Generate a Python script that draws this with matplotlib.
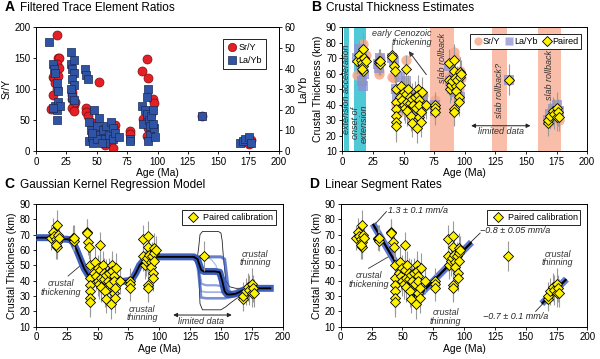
import numpy as np
import matplotlib
matplotlib.use('Agg')
import matplotlib.pyplot as plt
from matplotlib.lines import Line2D

plt.rcParams['font.family'] = ['Liberation Sans', 'DejaVu Sans']
plt.rcParams['font.size'] = 7
plt.rcParams['axes.linewidth'] = 0.7
plt.rcParams['xtick.major.size'] = 2.5
plt.rcParams['ytick.major.size'] = 2.5
plt.rcParams['xtick.major.width'] = 0.6
plt.rcParams['ytick.major.width'] = 0.6

# ---- panel A: trace element ratios ----
sry_age = [17, 18, 19, 17, 19, 16, 14, 15, 18, 16, 14, 17, 12,
           30, 30, 30, 31, 30, 31, 32, 41, 41, 43, 52,
           47, 48, 50, 55, 58, 60, 62, 63, 65, 64, 57,
           77, 77, 87, 91, 92, 88, 90, 92, 96, 97, 91, 95, 93,
           137, 170, 175, 177]
sry_val = [187, 150, 150, 140, 135, 125, 120, 118, 122, 110, 90, 100, 68,
           95, 90, 85, 75, 70, 65, 80, 70, 63, 57, 112,
           45, 40, 30, 35, 20, 25, 15, 5, 42, 35, 10,
           32, 28, 130, 148, 118, 52, 45, 38, 85, 78, 25, 60, 57,
           57, 15, 12, 18]
layb_age = [11, 14, 15, 16, 17, 18, 16, 17, 18, 20, 17, 14,
            29, 29, 30, 31, 30, 31, 29, 30, 31, 31,
            40, 41, 43,
            44, 45, 44, 46, 47, 48, 50, 52, 53, 55, 56, 57, 58, 60, 62,
            63, 63, 65, 68, 50, 46, 54,
            77, 77,
            87, 88, 91, 92, 90, 91, 93, 94, 94, 92, 95, 96, 97, 98, 96,
            137, 168, 170, 172, 175, 177]
layb_val = [53, 42, 40, 38, 33, 29, 22, 20, 24, 22, 15, 21,
            48, 42, 40, 38, 35, 32, 30, 26, 25, 44,
            40, 37, 35,
            14, 10, 5, 7, 4, 20, 12, 16, 8, 10, 6, 4, 12, 8, 14,
            11, 6, 9, 7, 6, 9, 4,
            6, 5,
            22, 13, 26, 30, 20, 18, 15, 12, 8, 5, 17, 20, 11, 7, 13,
            17, 4, 5, 6, 7, 4]

# ---- paired crustal thickness estimates (panels B-D) ----
pair_age = [12, 14, 15, 16, 17, 17, 17, 18, 19, 16,
            30, 30, 31, 31,
            41, 41, 42, 43,
            44, 44, 44, 44, 44, 44,
            47, 48, 49, 50, 50, 51, 52, 52, 53, 53, 54, 55, 55, 56, 57, 57,
            58, 59, 60, 61, 62, 62, 63, 63, 63, 64, 64, 65, 68,
            76, 76, 76,
            87, 87, 88, 89, 90, 91, 91, 91, 91, 92, 93, 93, 94, 95, 95, 96,
            96, 96, 97,
            136,
            168, 168, 170, 172, 173, 175, 175, 176, 177]
pair_th = [68, 72, 69, 67, 76, 65, 62, 70, 68, 63,
           67, 68, 66, 68,
           72, 71, 65, 62,
           50, 42, 37, 33, 29, 26,
           45, 52, 43, 40, 48, 38, 63, 47, 42, 36, 50, 45, 41, 33, 28, 44,
           40, 45, 38, 25, 50, 46, 43, 40, 32, 29, 35, 48, 40,
           40, 38, 35,
           67, 56, 50, 53, 55, 69, 62, 37, 35, 57, 52, 49, 56, 45, 42, 61,
           58, 53, 60,
           56,
           28, 30, 33, 36, 34, 38, 32, 35, 32]
pair_err = [8, 9, 7, 8, 10, 9, 8, 7, 8, 9,
            7, 8, 7, 8,
            8, 9, 8, 8,
            9, 10, 9, 10, 11, 10,
            9, 10, 9, 10, 9, 10, 9, 10, 9, 10, 9, 10, 9, 10, 9, 10,
            9, 10, 9, 10, 9, 10, 9, 10, 9, 10, 9, 10, 9,
            8, 8, 8,
            9, 10, 9, 10, 9, 10, 9, 10, 9, 10, 9, 10, 9, 10, 9, 10,
            9, 10, 9,
            10,
            8, 9, 9, 9, 10, 10, 9, 9, 9]

sry_th_age = [12, 15, 17, 19, 16, 30, 30, 31, 41, 42, 44, 46, 48, 50, 52, 53,
              55, 57, 58, 60, 62, 63, 65, 66, 68, 76, 76, 87, 88, 90, 91, 92,
              93, 95, 96, 97, 136, 168, 170, 172, 175, 177]
sry_th = [59, 70, 79, 72, 65, 62, 60, 70, 58, 57, 40, 35, 45, 42, 69, 50,
          38, 30, 44, 35, 48, 42, 37, 46, 40, 43, 37, 58, 52, 54, 74, 70,
          60, 50, 62, 57, 56, 28, 29, 31, 33, 30]
layb_th_age = [12, 14, 16, 17, 18, 15, 29, 30, 31, 41, 42, 44, 45, 47, 49, 50,
               52, 54, 56, 58, 60, 62, 63, 64, 66, 76, 76, 87, 88, 90, 91, 92,
               94, 95, 96, 136, 168, 170, 172, 175, 177]
layb_th = [70, 76, 55, 52, 60, 66, 66, 64, 70, 70, 68, 50, 45, 58, 40, 38,
           55, 48, 40, 35, 45, 42, 38, 36, 45, 40, 36, 65, 55, 50, 60, 48,
           58, 55, 45, 56, 30, 34, 37, 40, 36]

# ---- panel C: Gaussian kernel regression ----
gkr_age = [0, 5, 10, 15, 20, 25, 28, 30, 33, 36, 39, 42, 45, 50, 55, 60, 65,
           70, 75, 78, 81, 84, 87, 90, 95, 100, 110, 120, 128, 131, 134, 136,
           140, 145, 149, 151, 153, 155, 158, 162, 166, 170, 175, 180, 185, 190]
gkr_med = [68, 68, 68, 67.5, 67, 67, 66.5, 65, 60, 54, 48, 44, 42, 41, 41,
           40.5, 40, 39.5, 40, 41, 45, 50, 53, 55, 55.5, 55.5, 55.5, 55.5,
           55.5, 54, 47, 46, 46, 46, 45.5, 40, 33, 31, 31, 31.5, 33, 34.5, 35,
           35, 35, 35]
ens_age = [128, 131, 134, 138, 142, 146, 150, 153, 156, 159, 162, 166, 170]
ens_runs = [
    [55.5, 55.5, 55.5, 55.5, 55.5, 55.5, 55.5, 54, 34, 31, 31, 32.5, 34.5],
    [55.5, 50, 29, 28.5, 28.5, 28.5, 28.5, 28.5, 29, 29.5, 30, 32, 34.5],
    [55.5, 54, 38, 37, 37, 37, 36.5, 35, 33, 31, 31, 32.5, 34.5],
    [55.5, 55, 33, 32.5, 32.5, 32.5, 32.5, 32, 31, 30.5, 31, 32.5, 34.5],
    [55.5, 55.5, 55.5, 55, 54, 50, 36, 33, 31.5, 31, 31, 32.5, 34.5],
]
env_age = [128, 131, 132, 133, 135, 148, 150, 151, 152, 154, 157, 162, 170]
env_hi = [55.5, 56, 62, 70, 72, 72, 71, 66, 55, 40, 36, 35, 35]
env_lo = [55.5, 54, 45, 25, 21, 21, 21, 21.5, 22, 23, 25, 28, 32]

# ---- panel D: linear segment fits ----
seg_age = [[26, 64], [63, 106], [163, 183]]
seg_th = [[77, 25], [30, 65], [25, 41]]

red = '#e41f26'
blue = '#2f54a5'
yellow = '#fff200'
salmon = '#f7a98c'
cyan = '#3dc3d2'

fig = plt.figure(figsize=(6, 3.59), dpi=100)
axA = fig.add_axes([0.060, 0.579, 0.405, 0.345])
axB = fig.add_axes([0.5705, 0.579, 0.408, 0.345])
axC = fig.add_axes([0.060, 0.090, 0.411, 0.342])
axD = fig.add_axes([0.568, 0.090, 0.411, 0.342])

for ax, letter, title in [(axA, 'A', 'Filtered Trace Element Ratios'),
                          (axB, 'B', 'Crustal Thickness Estimates'),
                          (axC, 'C', 'Gaussian Kernel Regression Model'),
                          (axD, 'D', 'Linear Segment Rates')]:
    pos = ax.get_position()
    fig.text(pos.x0 - 0.052, pos.y1 + 0.037, letter, fontsize=10,
             fontweight='bold', va='bottom')
    fig.text(pos.x0 - 0.027, pos.y1 + 0.037, title, fontsize=8.5, va='bottom')
    ax.set_xlim(0, 200)
    ax.set_xticks(np.arange(0, 201, 25))
    ax.set_xlabel('Age (Ma)', fontsize=7.5, labelpad=1)
    ax.tick_params(labelsize=7, pad=1.5)

leg_kw = dict(fancybox=False, edgecolor='black', framealpha=1, fontsize=6.5)

# A
axA.scatter(sry_age, sry_val, s=42, c=red, edgecolors='#7a1010',
            linewidths=0.5, zorder=3)
axA.set_ylim(0, 200)
axA.set_yticks(np.arange(0, 201, 50))
axA.set_ylabel('Sr/Y', fontsize=7.5, labelpad=2)
axA2 = axA.twinx()
axA2.scatter(layb_age, layb_val, s=34, marker='s', c=blue,
             edgecolors='#1a2a55', linewidths=0.5, zorder=3)
axA2.set_ylim(0, 60)
axA2.set_yticks(np.arange(0, 61, 10))
axA2.set_ylabel('La/Yb', fontsize=7.5, labelpad=2)
axA2.tick_params(labelsize=7, pad=1.5)
hA = [Line2D([], [], ls='', marker='o', ms=6, mfc=red, mec='#7a1010', mew=0.5),
      Line2D([], [], ls='', marker='s', ms=5.5, mfc=blue, mec='#1a2a55', mew=0.5)]
lgA = axA2.legend(hA, ['Sr/Y', 'La/Yb'], loc='upper right',
                  handletextpad=0.1, handlelength=1.2, borderpad=0.45,
                  labelspacing=0.45, bbox_to_anchor=(0.965, 0.94), **leg_kw)
lgA.get_frame().set_linewidth(0.6)


def paired(ax, label=None):
    ax.errorbar(pair_age, pair_th, yerr=pair_err, xerr=4, fmt='D', ms=5.5,
                mfc=yellow, mec='black', mew=0.6, ecolor='#9a9a9a',
                elinewidth=0.8, capsize=0, zorder=5, label=label)


def thick_axis(ax):
    ax.set_ylim(10, 90)
    ax.set_yticks(np.arange(10, 91, 10))
    ax.set_ylabel('Crustal Thickness (km)', fontsize=7.5, labelpad=2)


# B
for a0, a1, col in [(1.1, 5.2, cyan), (9.3, 19.3, cyan), (71.3, 91.4, salmon),
                    (122, 134.7, salmon), (160, 178.5, salmon)]:
    axB.axvspan(a0, a1, color=col, alpha=0.9 if col == cyan else 0.75,
                lw=0, zorder=0)
band_txt = dict(rotation=90, style='italic', fontsize=6.5, ha='center',
                va='center', color='#333333', zorder=1)
axB.text(3.2, 50, 'extension acceleration', **band_txt)
axB.text(14.3, 28, 'onset of\nextension', linespacing=0.9, **band_txt)
axB.text(81.5, 70, 'slab rollback', **band_txt)
axB.text(128.3, 49, 'slab rollback?', **band_txt)
axB.text(169.3, 59, 'slab rollback', **band_txt)
axB.scatter(sry_th_age, sry_th, s=55, c=salmon, alpha=0.85, lw=0, zorder=2)
axB.scatter(layb_th_age, layb_th, s=50, marker='s', c='#8d8fd3', alpha=0.75,
            lw=0, zorder=3)
paired(axB)
axB.text(73, 86, 'early Cenozoic', style='italic', fontsize=6.5, ha='right',
         va='center', color='#333333')
axB.text(73, 80.3, 'thickening', style='italic', fontsize=6.5, ha='right',
         va='center', color='#333333')
axB.annotate('', xy=(53, 76), xytext=(70, 58),
             arrowprops=dict(arrowstyle='-|>', color='#333333', lw=0.7,
                             mutation_scale=7))
axB.annotate('', xy=(103, 26.4), xytext=(156, 26.4),
             arrowprops=dict(arrowstyle='<|-|>', color='#222222', lw=0.7,
                             mutation_scale=6))
axB.text(129.5, 22.5, 'limited data', style='italic', fontsize=6.5,
         ha='center', va='center', color='#333333')
thick_axis(axB)
hB = [Line2D([], [], ls='', marker='o', ms=6, mfc=salmon, mec='none', alpha=0.85),
      Line2D([], [], ls='', marker='s', ms=5.5, mfc='#8d8fd3', mec='none', alpha=0.75),
      Line2D([], [], ls='', marker='D', ms=5.5, mfc=yellow, mec='black', mew=0.6)]
lgB = axB.legend(hB, ['Sr/Y', 'La/Yb', 'Paired'], loc='upper right', ncol=3,
                 handletextpad=0.05, columnspacing=0.5, borderpad=0.35,
                 handlelength=1.0, bbox_to_anchor=(0.995, 0.985), **leg_kw)
lgB.get_frame().set_linewidth(0.6)

# C
axC.plot(env_age, env_hi, color='#222222', lw=0.6, zorder=2)
axC.plot(env_age, env_lo, color='#222222', lw=0.6, zorder=2)
for i, run in enumerate(ens_runs):
    axC.plot(ens_age, run, color='#3355bb', lw=2.2 - 0.3 * i,
             alpha=0.75 - 0.1 * i, zorder=2)
axC.plot(gkr_age, gkr_med, color='#2a4fb5', lw=5, alpha=0.9, zorder=3)
axC.plot(gkr_age, gkr_med, color='black', lw=1.3, zorder=4)
paired(axC, 'Paired calibration')
txt = dict(style='italic', fontsize=6.5, ha='center', va='center',
           color='#333333', linespacing=0.95)
axC.text(20, 35, 'crustal\nthickening', **txt)
axC.plot([26, 35.5], [43, 49.5], color='#333333', lw=0.6)
axC.text(86, 18.5, 'crustal\nthinning', **txt)
axC.text(177.5, 54.5, 'crustal\nthinning', **txt)
axC.annotate('', xy=(109, 17.6), xytext=(161, 17.6),
             arrowprops=dict(arrowstyle='<|-|>', color='#222222', lw=0.7,
                             mutation_scale=6))
axC.text(134, 13.5, 'limited data', **txt)
thick_axis(axC)
lgC = axC.legend(loc='upper right', handletextpad=0.2, handlelength=1.8,
                 borderpad=0.3, bbox_to_anchor=(0.99, 0.985), **leg_kw)
lgC.get_frame().set_linewidth(0.6)

# D
for sa, st in zip(seg_age, seg_th):
    axD.plot(sa, st, color='#3456cc', lw=5, alpha=0.8, zorder=3,
             solid_capstyle='butt')
    axD.plot(sa, st, color='black', lw=1.6, zorder=4, solid_capstyle='butt')
paired(axD, 'Paired calibration')
axD.text(38, 85.5, '1.3 \u00b1 0.1 mm/a', style='italic', fontsize=6.5,
         va='center', color='#222222')
axD.plot([28, 37], [77, 85], color='#222222', lw=0.6)
axD.text(113, 72.5, '\u22120.8 \u00b1 0.05 mm/a', style='italic', fontsize=6.5,
         va='center', color='#222222')
axD.plot([104, 113], [64, 71], color='#222222', lw=0.6)
axD.text(115, 16.5, '\u22120.7 \u00b1 0.1 mm/a', style='italic', fontsize=6.5,
         va='center', color='#222222')
axD.plot([158, 165], [20, 26], color='#222222', lw=0.6)
axD.text(23, 40.5, 'crustal\nthickening', zorder=6, **txt)
axD.plot([22.5, 38.5], [48, 55.5], color='#333333', lw=0.6)
axD.text(85, 16.5, 'crustal\nthinning', **txt)
axD.text(176, 54.5, 'crustal\nthinning', **txt)
thick_axis(axD)
lgD = axD.legend(loc='upper right', handletextpad=0.2, handlelength=1.8,
                 borderpad=0.3, bbox_to_anchor=(0.99, 0.985), **leg_kw)
lgD.get_frame().set_linewidth(0.6)

fig.savefig('out.png', dpi=100)
